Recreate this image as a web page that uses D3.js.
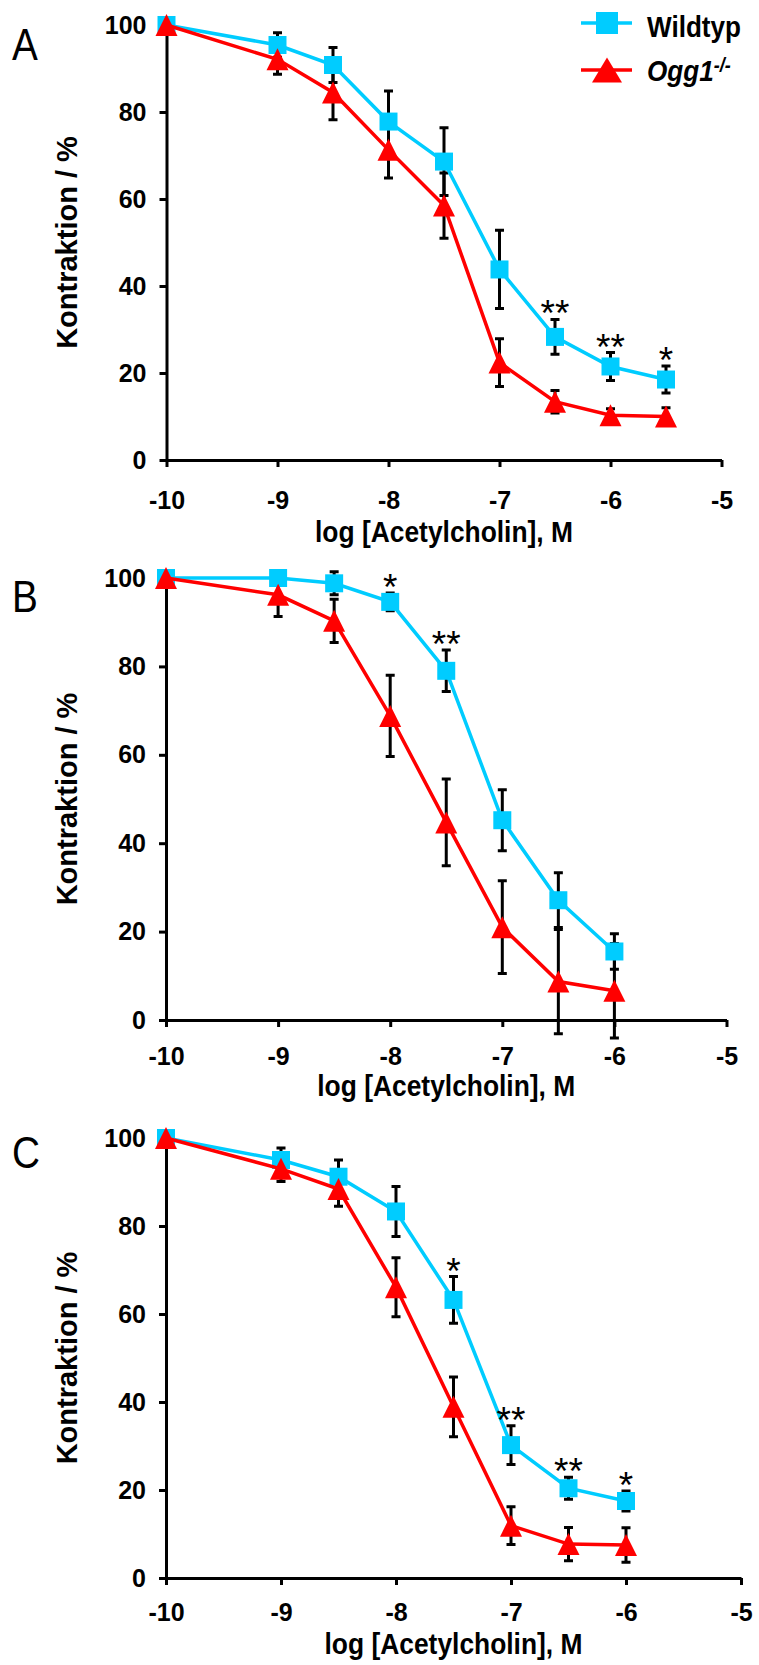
<!DOCTYPE html>
<html>
<head>
<meta charset="utf-8">
<script src="https://cdn.jsdelivr.net/npm/d3@7"></script>
<style>
body { margin: 0; background: #fff; }
svg { display: block; }
text { font-family: "Liberation Sans", Arial, sans-serif; }
</style>
</head>
<body>
<svg id="chart" width="759" height="1665"></svg>
<script>
// doses (log M)
const dosesA = [-10, -9, -8.5, -8, -7.5, -7, -6.5, -6, -5.5];
const dosesBC = [-10, -9, -8.5, -8, -7.5, -7, -6.5, -6];
const xTicks = [-10, -9, -8, -7, -6, -5];
const yTicks = [0, 20, 40, 60, 80, 100];

// panel A
const wtA = [100, 95.4, 90.8, 77.8, 68.6, 43.8, 28.3, 21.5, 18.5];
const wtA_err = [0, 2.8, 4, 7, 7.8, 9, 4, 3.2, 3.1];
const koA = [100, 92.1, 84.5, 71.3, 58.5, 22.4, 13.4, 10.3, 10];
const koA_err = [0, 3.4, 6.3, 6.5, 7.5, 5.5, 2.6, 1.5, 2];
const sigA = ["", "", "", "", "", "", "**", "**", "*"];

// panel B
const wtB = [100, 100, 98.8, 94.6, 79, 45.2, 27.1, 15.5];
const wtB_err = [0, 0, 2.6, 2, 4.7, 6.9, 6.2, 4];
const koB = [100, 96.2, 90.3, 68.8, 44.7, 21, 8.7, 6.6];
const koB_err = [0, 4.9, 4.9, 9.2, 9.8, 10.5, 11.8, 10.7];
const sigB = ["", "", "", "*", "**", "", "", ""];

// panel C
const wtC = [100, 95, 91.2, 83.3, 63.2, 30.2, 20.4, 17.5];
const wtC_err = [0, 2.7, 3.8, 5.7, 5.3, 4.4, 2.5, 2.3];
const koC = [100, 93, 88.4, 66.1, 38.9, 11.9, 7.7, 7.5];
const koC_err = [0, 2.9, 3.9, 6.7, 6.8, 4.3, 3.8, 3.9];
const sigC = ["", "", "", "", "*", "**", "**", "*"];

const color_wt = "#00ccff";
const color_ko = "#ff0000";

const svg = d3.select("#chart");

const panels = [
    {letter: "A", doses: dosesA, wt: wtA, wtErr: wtA_err, ko: koA, koErr: koA_err, sig: sigA,
     top: 25, bottom: 460, left: 166.5, right: 721.5, pad: 24, titleY: 542, letterY: 60},
    {letter: "B", doses: dosesBC, wt: wtB, wtErr: wtB_err, ko: koB, koErr: koB_err, sig: sigB,
     top: 578, bottom: 1020, left: 166, right: 726.5, pad: 20, titleY: 1096, letterY: 612},
    {letter: "C", doses: dosesBC, wt: wtC, wtErr: wtC_err, ko: koC, koErr: koC_err, sig: sigC,
     top: 1138, bottom: 1578, left: 166, right: 741, pad: 18, titleY: 1654, letterY: 1168}
];

function square(size)
{
    const h = size / 2;
    return `M${-h},${-h}H${h}V${h}H${-h}Z`;
}
function triangle(w, h)
{
    return `M0,${-h / 2}L${w / 2},${h / 2}L${-w / 2},${h / 2}Z`;
}

function draw_panel(p)
{
    const x = d3.scaleLinear().domain([-10, -5]).range([p.left, p.right]);
    const y = d3.scaleLinear().domain([0, 100]).range([p.bottom, p.top]);
    const g = svg.append("g");

    // axes
    const xAxis = g.append("g")
        .attr("transform", `translate(0,${p.bottom})`)
        .call(d3.axisBottom(x).tickValues(xTicks).tickSize(7).tickSizeOuter(0)
            .tickPadding(p.pad).tickFormat(d => String(d)));
    const yAxis = g.append("g")
        .attr("transform", `translate(${p.left},0)`)
        .call(d3.axisLeft(y).tickValues(yTicks).tickSize(7).tickSizeOuter(0)
            .tickPadding(13).tickFormat(d => String(d)));
    for (const a of [xAxis, yAxis])
    {
        a.select(".domain").attr("stroke-width", 3).attr("stroke", "#000");
        a.selectAll(".tick line").attr("stroke-width", 3).attr("stroke", "#000");
        a.selectAll(".tick text")
            .attr("font-family", "'Liberation Sans', Arial, sans-serif")
            .attr("font-size", 25).attr("font-weight", "bold").attr("fill", "#000");
    }

    // axis titles
    g.append("text")
        .attr("transform", `translate(77,${(p.top + p.bottom) / 2}) rotate(-90)`)
        .attr("text-anchor", "middle")
        .attr("font-size", 29).attr("font-weight", "bold")
        .text("Kontraktion / %");
    g.append("text")
        .attr("transform", `translate(${(p.left + p.right) / 2},${p.titleY}) scale(0.91,1)`)
        .attr("text-anchor", "middle")
        .attr("font-size", 29).attr("font-weight", "bold")
        .text("log [Acetylcholin], M");
    g.append("text")
        .attr("transform", `translate(12,${p.letterY}) scale(0.88,1)`)
        .attr("font-size", 44)
        .text(p.letter);

    const wt = p.doses.map((d, i) => ({x: d, v: p.wt[i], e: p.wtErr[i], s: p.sig[i]}));
    const ko = p.doses.map((d, i) => ({x: d, v: p.ko[i], e: p.koErr[i]}));

    // error bars
    const eb = g.append("g").attr("stroke", "#000").attr("stroke-width", 3).attr("fill", "none");
    for (const d of wt.concat(ko).filter(d => d.e > 0))
    {
        const cx = x(d.x);
        eb.append("path")
            .attr("d", `M${cx},${y(d.v - d.e)}V${y(d.v + d.e)}` +
                `M${cx - 4.5},${y(d.v + d.e)}H${cx + 4.5}` +
                `M${cx - 4.5},${y(d.v - d.e)}H${cx + 4.5}`);
    }

    const line = d3.line().x(d => x(d.x)).y(d => y(d.v));

    g.append("path").datum(wt)
        .attr("fill", "none").attr("stroke", color_wt).attr("stroke-width", 3.5)
        .attr("d", line);
    g.append("g").selectAll("path").data(wt).join("path")
        .attr("transform", d => `translate(${x(d.x)},${y(d.v)})`)
        .attr("d", square(18)).attr("fill", color_wt);

    g.append("path").datum(ko)
        .attr("fill", "none").attr("stroke", color_ko).attr("stroke-width", 3.5)
        .attr("d", line);
    g.append("g").selectAll("path").data(ko).join("path")
        .attr("transform", d => `translate(${x(d.x)},${y(d.v)})`)
        .attr("d", triangle(22, 22)).attr("fill", color_ko);

    // significance
    g.append("g").selectAll("text").data(wt.filter(d => d.s)).join("text")
        .attr("x", d => x(d.x))
        .attr("y", d => y(d.v + d.e) + 7)
        .attr("text-anchor", "middle")
        .attr("font-size", 37)
        .text(d => d.s);
}

panels.forEach(draw_panel);

// legend
const leg = svg.append("g");
leg.append("line").attr("x1", 581).attr("x2", 632).attr("y1", 23).attr("y2", 23)
    .attr("stroke", color_wt).attr("stroke-width", 3.5);
leg.append("path").attr("transform", "translate(607,23)").attr("d", square(22)).attr("fill", color_wt);
leg.append("text").attr("transform", "translate(647,37) scale(0.9,1)")
    .attr("font-size", 29).attr("font-weight", "bold").text("Wildtyp");

leg.append("line").attr("x1", 581).attr("x2", 632).attr("y1", 70).attr("y2", 70)
    .attr("stroke", color_ko).attr("stroke-width", 3.5);
leg.append("path").attr("transform", "translate(607,70)").attr("d", triangle(30, 25)).attr("fill", color_ko);
const kt = leg.append("text").attr("transform", "translate(647,81) scale(0.9,1)")
    .attr("font-size", 29).attr("font-weight", "bold").attr("font-style", "italic");
kt.append("tspan").text("Ogg1");
kt.append("tspan").attr("font-size", 20).attr("dy", -9).text("-/-");
</script>
</body>
</html>
